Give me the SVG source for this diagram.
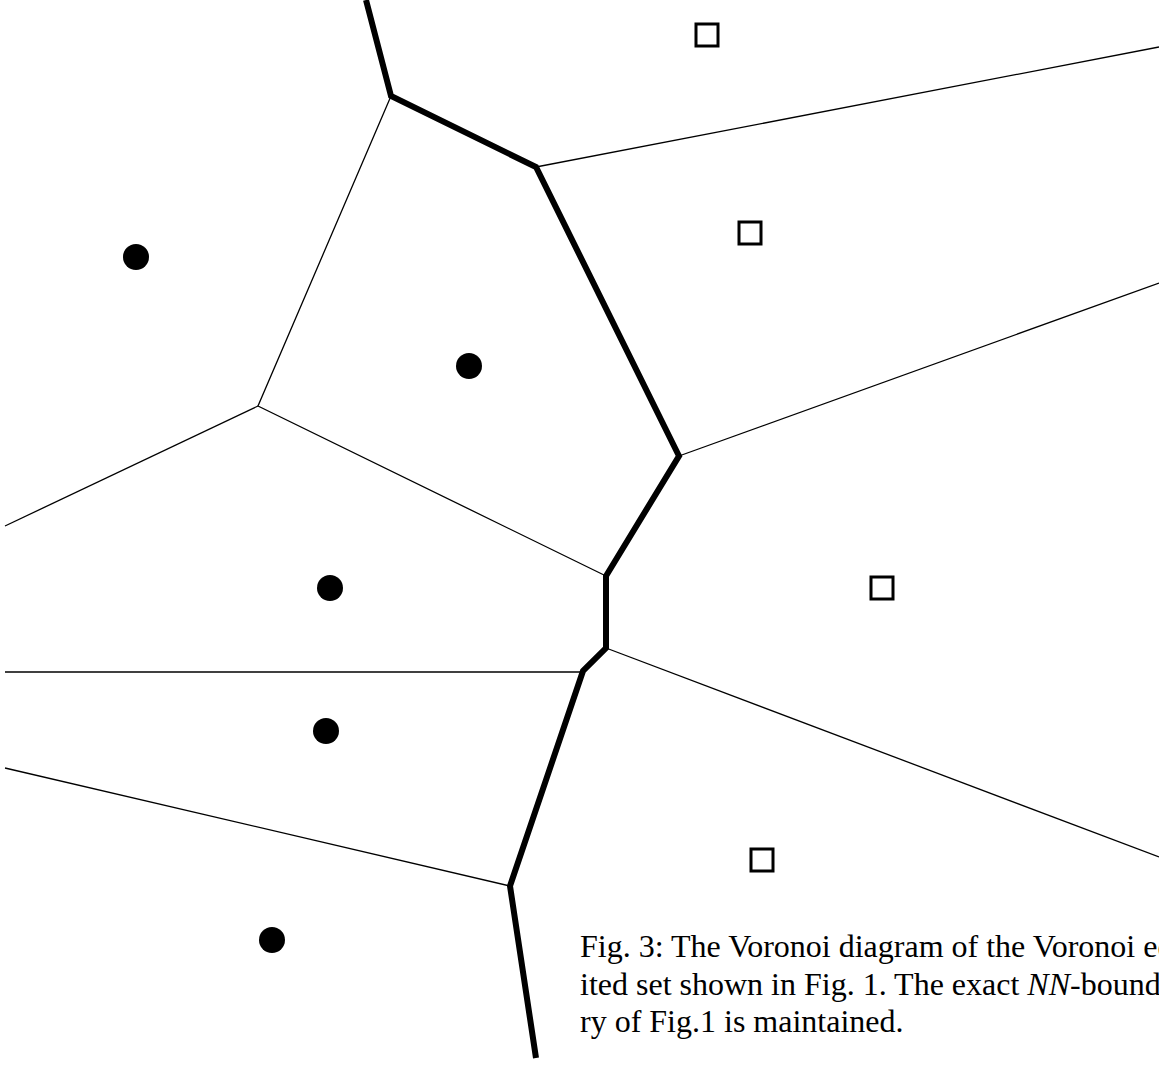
<svg xmlns="http://www.w3.org/2000/svg" width="1159" height="1065" viewBox="0 0 1159 1065">
<style>
.thin{fill:none;stroke:#000;stroke-width:1.3}
.thick{fill:none;stroke:#000;stroke-width:6;stroke-linejoin:miter}
.dot{fill:#000}
.sq{fill:#fff;stroke:#000;stroke-width:3}
.cap{font-family:"Liberation Serif","Times New Roman",serif;font-size:32px;fill:#000}
</style>
<rect width="1159" height="1065" fill="#fff"/>
<g id="connectors">
<polyline class="thin" points="536,167 1159,47"/>
<polyline class="thin" points="679,456 1159,283"/>
<polyline class="thin" points="606,648 1159,857"/>
<polyline class="thin" points="606,576 258,406 391,96"/>
<polyline class="thin" points="258,406 5,526"/>
<polyline class="thin" points="5,672 583,672"/>
<polyline class="thin" points="5,768 510,886"/>
<polyline class="thick" points="366,0 391,96 536,167 679,456 606,576 606,648 583,671 510,886 536,1058"/>
</g>
<g id="dot1"><circle class="dot" cx="136" cy="257" r="13"/></g>
<g id="dot2"><circle class="dot" cx="469" cy="366" r="13"/></g>
<g id="dot3"><circle class="dot" cx="330" cy="588" r="13"/></g>
<g id="dot4"><circle class="dot" cx="326" cy="731" r="13"/></g>
<g id="dot5"><circle class="dot" cx="272" cy="940" r="13"/></g>
<g id="sq1"><rect class="sq" x="696" y="24" width="22" height="22"/></g>
<g id="sq2"><rect class="sq" x="739" y="222" width="22" height="22"/></g>
<g id="sq3"><rect class="sq" x="871" y="577" width="22" height="22"/></g>
<g id="sq4"><rect class="sq" x="751" y="849" width="22" height="22"/></g>
<g id="caption">
<text class="cap" x="580" y="957">Fig. 3: The Voronoi diagram of the Voronoi ed</text>
<text class="cap" x="580" y="995">ited set shown in Fig. 1. The exact <tspan font-style="italic">NN</tspan>-bound</text>
<text class="cap" x="580" y="1032">ry of Fig.1 is maintained.</text>
</g>
</svg>
